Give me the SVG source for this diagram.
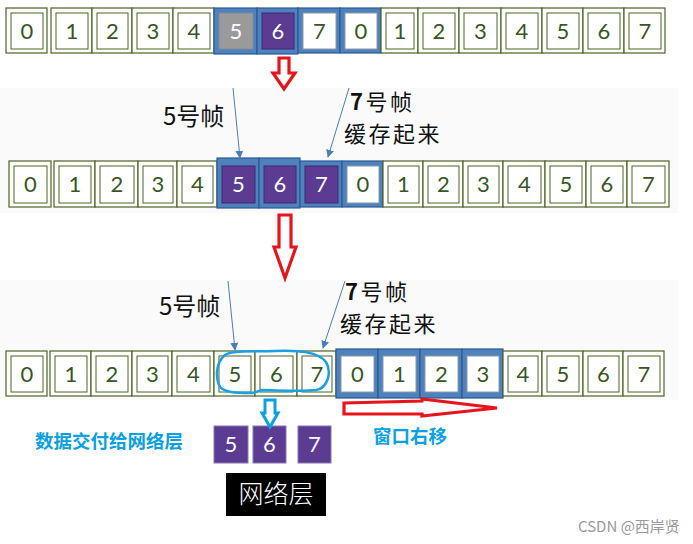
<svg xmlns="http://www.w3.org/2000/svg" width="693" height="544" viewBox="0 0 693 544">
<defs>
<style>
.o{fill:#fdfef9;stroke:#4f6228;stroke-width:1.2}
.ob{fill:#4f81bd;stroke:#2b5b94;stroke-width:1.2}
.i{fill:#ffffff;stroke:#4f6228;stroke-width:1}
.iw{fill:#ffffff;stroke:#8a9aa8;stroke-width:1}
.ig{fill:#9a9a9a;stroke:#7f8b96;stroke-width:1}
.ip{fill:#5c3b93;stroke:#3f2a70;stroke-width:1}
.d{font-family:Lato,"Open Sans","Liberation Sans",sans-serif;font-size:22px;fill:#375623;text-anchor:middle}
.dw{font-family:Lato,"Open Sans","Liberation Sans",sans-serif;font-size:22px;fill:#ffffff;text-anchor:middle}
.lbl{font-family:"Noto Sans CJK SC","Liberation Sans",sans-serif;font-size:24px;fill:#111111}
.lbl2{font-family:"Noto Sans CJK SC","Liberation Sans",sans-serif;font-size:22px;letter-spacing:2.5px;fill:#111111}
.blue{font-family:"Noto Sans CJK SC","Liberation Sans",sans-serif;font-size:18.5px;font-weight:bold;fill:#0aa0e4}
.lead{stroke:#4a7ebb;stroke-width:1;fill:none;marker-end:url(#ah)}
.red{fill:#ffffff;stroke:#e8141c;stroke-width:3.2;stroke-linejoin:miter}
</style>
<marker id="ah" viewBox="0 0 10 10" refX="9" refY="5" markerWidth="8" markerHeight="8" orient="auto" markerUnits="userSpaceOnUse">
<path d="M0,0 L10,5 L0,10 z" fill="#4a7ebb"/>
</marker>
</defs>
<rect width="693" height="544" fill="#ffffff"/>
<rect x="0" y="88" width="678" height="125" fill="#fafafa"/>
<rect x="0" y="280" width="678" height="120" fill="#fafafa"/>

<!-- Row 1 -->
<g id="row1">
<g id="r1c0"><rect class="o" x="6" y="8" width="41" height="45"/><rect class="i" x="11" y="13" width="32" height="36"/><text class="d" x="27" y="39">0</text></g>
<g id="r1c1"><rect class="o" x="51" y="8" width="41" height="45"/><rect class="i" x="56" y="13" width="32" height="36"/><text class="d" x="72" y="39">1</text></g>
<g id="r1c2"><rect class="o" x="92" y="8" width="40" height="45"/><rect class="i" x="97" y="13" width="31" height="36"/><text class="d" x="112.5" y="39">2</text></g>
<g id="r1c3"><rect class="o" x="132" y="8" width="41" height="45"/><rect class="i" x="137" y="13" width="32" height="36"/><text class="d" x="153" y="39">3</text></g>
<g id="r1c4"><rect class="o" x="173" y="8" width="41" height="45"/><rect class="i" x="178" y="13" width="32" height="36"/><text class="d" x="194" y="39">4</text></g>
<g id="r1c5"><rect class="ob" x="214" y="8" width="43" height="46"/><rect class="ig" x="219" y="13" width="34" height="36"/><text class="dw" x="236" y="39">5</text></g>
<g id="r1c6"><rect class="ob" x="257" y="8" width="41" height="46"/><rect class="ip" x="262" y="13" width="32" height="36"/><text class="dw" x="278" y="39">6</text></g>
<g id="r1c7"><rect class="ob" x="298" y="8" width="42" height="45"/><rect class="iw" x="303" y="13" width="33" height="36"/><text class="d" x="319.5" y="39">7</text></g>
<g id="r1c8"><rect class="ob" x="340" y="8" width="41" height="45"/><rect class="iw" x="345" y="13" width="32" height="36"/><text class="d" x="361" y="39">0</text></g>
<g id="r1c9"><rect class="o" x="381" y="8" width="37" height="45"/><rect class="i" x="386" y="13" width="28" height="36"/><text class="d" x="400" y="39">1</text></g>
<g id="r1c10"><rect class="o" x="418" y="8" width="41" height="45"/><rect class="i" x="423" y="13" width="32" height="36"/><text class="d" x="439" y="39">2</text></g>
<g id="r1c11"><rect class="o" x="459" y="8" width="42" height="45"/><rect class="i" x="464" y="13" width="33" height="36"/><text class="d" x="480.5" y="39">3</text></g>
<g id="r1c12"><rect class="o" x="501" y="8" width="41" height="45"/><rect class="i" x="506" y="13" width="32" height="36"/><text class="d" x="522" y="39">4</text></g>
<g id="r1c13"><rect class="o" x="542" y="8" width="41" height="45"/><rect class="i" x="547" y="13" width="32" height="36"/><text class="d" x="563" y="39">5</text></g>
<g id="r1c14"><rect class="o" x="583" y="8" width="41" height="45"/><rect class="i" x="588" y="13" width="32" height="36"/><text class="d" x="604" y="39">6</text></g>
<g id="r1c15"><rect class="o" x="624" y="8" width="41" height="45"/><rect class="i" x="629" y="13" width="32" height="36"/><text class="d" x="645" y="39">7</text></g>
</g>

<!-- Row 2 -->
<g id="row2">
<g id="r2c0"><rect class="o" x="9" y="161" width="42" height="46"/><rect class="i" x="14" y="166" width="33" height="37"/><text class="d" x="30.5" y="192">0</text></g>
<g id="r2c1"><rect class="o" x="54" y="161" width="41" height="46"/><rect class="i" x="59" y="166" width="32" height="37"/><text class="d" x="75" y="192">1</text></g>
<g id="r2c2"><rect class="o" x="95" y="161" width="43" height="46"/><rect class="i" x="100" y="166" width="34" height="37"/><text class="d" x="117" y="192">2</text></g>
<g id="r2c3"><rect class="o" x="138" y="161" width="39" height="46"/><rect class="i" x="143" y="166" width="30" height="37"/><text class="d" x="158" y="192">3</text></g>
<g id="r2c4"><rect class="o" x="177" y="161" width="40" height="46"/><rect class="i" x="182" y="166" width="31" height="37"/><text class="d" x="197.5" y="192">4</text></g>
<g id="r2c5"><rect class="ob" x="217" y="158" width="42" height="50"/><rect class="ip" x="222" y="166" width="33" height="37"/><text class="dw" x="238.5" y="192">5</text></g>
<g id="r2c6"><rect class="ob" x="259" y="158" width="41" height="50"/><rect class="ip" x="264" y="166" width="32" height="37"/><text class="dw" x="280" y="192">6</text></g>
<g id="r2c7"><rect class="ob" x="300" y="161" width="42" height="46"/><rect class="ip" x="305" y="166" width="33" height="37"/><text class="dw" x="321.5" y="192">7</text></g>
<g id="r2c8"><rect class="ob" x="342" y="161" width="41" height="46"/><rect class="iw" x="347" y="166" width="32" height="37"/><text class="d" x="363" y="192">0</text></g>
<g id="r2c9"><rect class="o" x="383" y="161" width="40" height="46"/><rect class="i" x="388" y="166" width="31" height="37"/><text class="d" x="403.5" y="192">1</text></g>
<g id="r2c10"><rect class="o" x="423" y="161" width="40" height="46"/><rect class="i" x="428" y="166" width="31" height="37"/><text class="d" x="443.5" y="192">2</text></g>
<g id="r2c11"><rect class="o" x="463" y="161" width="40" height="46"/><rect class="i" x="468" y="166" width="31" height="37"/><text class="d" x="483.5" y="192">3</text></g>
<g id="r2c12"><rect class="o" x="503" y="161" width="42" height="46"/><rect class="i" x="508" y="166" width="33" height="37"/><text class="d" x="524.5" y="192">4</text></g>
<g id="r2c13"><rect class="o" x="545" y="161" width="41" height="46"/><rect class="i" x="550" y="166" width="32" height="37"/><text class="d" x="566" y="192">5</text></g>
<g id="r2c14"><rect class="o" x="586" y="161" width="41" height="46"/><rect class="i" x="591" y="166" width="32" height="37"/><text class="d" x="607" y="192">6</text></g>
<g id="r2c15"><rect class="o" x="627" y="161" width="42" height="46"/><rect class="i" x="632" y="166" width="33" height="37"/><text class="d" x="648.5" y="192">7</text></g>
</g>

<!-- Row 3 -->
<g id="row3">
<g id="r3c0"><rect class="o" x="6" y="351" width="41" height="45"/><rect class="i" x="11" y="356" width="32" height="36"/><text class="d" x="27" y="382">0</text></g>
<g id="r3c1"><rect class="o" x="50" y="351" width="41" height="45"/><rect class="i" x="55" y="356" width="32" height="36"/><text class="d" x="71" y="382">1</text></g>
<g id="r3c2"><rect class="o" x="91" y="351" width="41" height="45"/><rect class="i" x="96" y="356" width="32" height="36"/><text class="d" x="112" y="382">2</text></g>
<g id="r3c3"><rect class="o" x="132" y="351" width="40" height="45"/><rect class="i" x="137" y="356" width="31" height="36"/><text class="d" x="152.5" y="382">3</text></g>
<g id="r3c4"><rect class="o" x="172" y="351" width="42" height="45"/><rect class="i" x="177" y="356" width="33" height="36"/><text class="d" x="193.5" y="382">4</text></g>
<g id="r3c5"><rect class="o" x="214" y="351" width="41" height="45"/><rect class="i" x="219" y="356" width="32" height="36"/><text class="d" x="235" y="382">5</text></g>
<g id="r3c6"><rect class="o" x="255" y="351" width="42" height="45"/><rect class="i" x="260" y="356" width="33" height="36"/><text class="d" x="276.5" y="382">6</text></g>
<g id="r3c7"><rect class="o" x="297" y="351" width="39" height="45"/><rect class="i" x="302" y="356" width="30" height="36"/><text class="d" x="317" y="382">7</text></g>
<g id="r3c8"><rect class="ob" x="336" y="349" width="42" height="49"/><rect class="iw" x="341" y="356" width="33" height="36"/><text class="d" x="357.5" y="382">0</text></g>
<g id="r3c9"><rect class="ob" x="378" y="349" width="42" height="49"/><rect class="iw" x="383" y="356" width="33" height="36"/><text class="d" x="399.5" y="382">1</text></g>
<g id="r3c10"><rect class="ob" x="420" y="349" width="42" height="49"/><rect class="iw" x="425" y="356" width="33" height="36"/><text class="d" x="441.5" y="382">2</text></g>
<g id="r3c11"><rect class="ob" x="462" y="349" width="41" height="49"/><rect class="iw" x="467" y="356" width="32" height="36"/><text class="d" x="483" y="382">3</text></g>
<g id="r3c12"><rect class="o" x="503" y="351" width="39" height="45"/><rect class="i" x="508" y="356" width="30" height="36"/><text class="d" x="523" y="382">4</text></g>
<g id="r3c13"><rect class="o" x="542" y="351" width="41" height="45"/><rect class="i" x="547" y="356" width="32" height="36"/><text class="d" x="563" y="382">5</text></g>
<g id="r3c14"><rect class="o" x="583" y="351" width="40" height="45"/><rect class="i" x="588" y="356" width="31" height="36"/><text class="d" x="603.5" y="382">6</text></g>
<g id="r3c15"><rect class="o" x="623" y="351" width="41" height="45"/><rect class="i" x="628" y="356" width="32" height="36"/><text class="d" x="644" y="382">7</text></g>
</g>

<!-- Labels -->
<g id="label-5-mid"><text class="lbl" x="163" y="125">5号帧</text></g>
<g id="label-7-mid"><text class="lbl2" x="350" y="110"><tspan font-weight="bold">7</tspan>号帧</text><text class="lbl2" x="344" y="142">缓存起来</text></g>
<g id="label-5-bot"><text class="lbl" x="159" y="315">5号帧</text></g>
<g id="label-7-bot"><text class="lbl2" x="345" y="300"><tspan font-weight="bold">7</tspan>号帧</text><text class="lbl2" x="340" y="332">缓存起来</text></g>

<g id="label-deliver"><text class="blue" x="35" y="448">数据交付给网络层</text></g>
<g id="label-slide"><text class="blue" x="373" y="443">窗口右移</text></g>

<!-- Delivered frames -->
<g id="deliv5"><rect class="ip" x="214" y="426" width="34" height="37" style="stroke:#8877b0"/><text class="dw" x="231" y="452">5</text></g>
<g id="deliv6"><rect class="ip" x="253" y="426" width="33" height="37" style="stroke:#8877b0"/><text class="dw" x="269.5" y="452">6</text></g>
<g id="deliv7"><rect class="ip" x="298" y="426" width="33" height="37" style="stroke:#8877b0"/><text class="dw" x="314.5" y="452">7</text></g>

<g id="network-layer"><rect x="226" y="473" width="100" height="43" fill="#000000"/><text x="276" y="503" text-anchor="middle" font-family="'Noto Sans CJK SC',sans-serif" font-size="25" font-weight="300" fill="#ffffff">网络层</text></g>

<!-- Connectors -->
<g id="connectors">
<line class="lead" x1="233" y1="88" x2="240" y2="158"/>
<line class="lead" x1="349" y1="88" x2="328" y2="157"/>
<line class="lead" x1="228" y1="281" x2="235" y2="350"/>
<line class="lead" x1="345" y1="281" x2="323" y2="348"/>
<polygon class="red" points="279,58 289,58 289,73 295,73 284,89 273,73 279,73"/>
<polygon class="red" points="279,215 291,215 291,247 296,247 285,278 274,247 279,247"/>
<polygon class="red" points="344,403 422,401 422,399 497,408 422,416 422,414 344,414"/>
<polygon points="265,400 275,400 275,413 278,413 270,427 262,413 265,413" fill="#ffffff" stroke="#0aa0e4" stroke-width="3"/>
<path d="M224,356 C230,350 250,352 275,351 C300,350 318,352 326,362 C332,372 328,388 316,390 C300,392 275,390 262,390 C258,391 256,393 250,393 C238,393 222,393 219,385 C215,375 217,362 224,356 Z" fill="none" stroke="#1ba1e2" stroke-width="2.5"/>
</g>

<g id="watermark"><text x="578" y="532" font-family="'Noto Sans CJK SC','Liberation Sans',sans-serif" font-size="15" fill="#9a9a9a">CSDN @西岸贤</text></g>
</svg>
